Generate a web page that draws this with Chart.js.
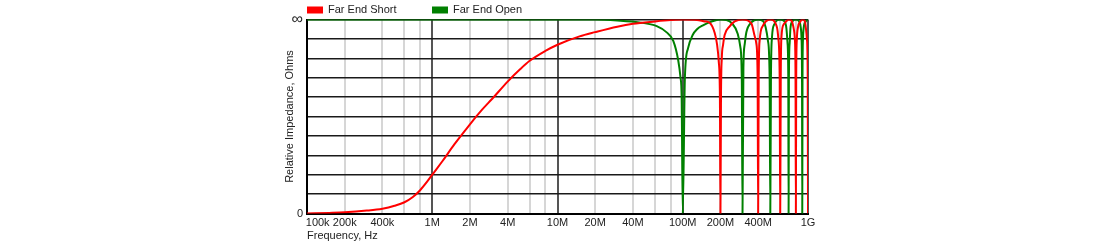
<!DOCTYPE html>
<html><head><meta charset="utf-8">
<script src="https://cdn.jsdelivr.net/npm/chart.js@4.4.1/dist/chart.umd.min.js"></script>
<style>html,body{margin:0;padding:0;background:#fff;}#wrap{width:1110px;height:251px;position:relative;}</style>
</head><body><div id="wrap"><canvas id="c"></canvas></div>
<script>
// Series names
const seriesNames = ['Far End Short', 'Far End Open'];

// Far End Short: frequency (MHz) and relative impedance (fraction of full scale, 1 = ∞)
const shortFreqMHz = [0.1,0.15,0.2,0.3,0.4,0.5,0.6,0.7,0.8,0.9,1,1.2,1.5,2,2.5,3,4,5,6,8,10,15,20,30,40,60,80,100,130,150,164,180,188,194,198,200,202,205,210,216,237,260,300,353,375,387,396,400,404,411,437,460,500,565,580,594,600,606,614,640,680,700,745,765,785,795,800,805,815,832,870,900,945,960,980,995,1000];
const shortZ = [0,0.003,0.006,0.015,0.025,0.04,0.058,0.085,0.12,0.16,0.2,0.268,0.356,0.46,0.535,0.59,0.68,0.742,0.787,0.838,0.87,0.913,0.935,0.963,0.978,0.99,0.997,1,0.998,0.99,0.983,0.93,0.87,0.78,0.6,0,0.6,0.8,0.87,0.92,0.965,0.99,1,0.98,0.915,0.874,0.7,0,0.7,0.89,0.968,0.99,1,0.96,0.9,0.7,0,0.7,0.91,0.975,0.995,1,0.99,0.96,0.9,0.7,0,0.7,0.9,0.96,0.99,1,0.99,0.96,0.9,0.7,0];

// Far End Open
const openFreqMHz = [0.1,1,10,20,30,45,62,74,84,92,96,98,100,104,110,120,130,145,170,200,250,275,288,296,300,305,312,322,353,400,440,459,479,494,500,506,516,538,600,650,672,686,696,700,704,714,724,750,800,850,875,888,896,900,904,912,925,960,1000];
const openZ = [1,1,1,1,0.995,0.985,0.966,0.935,0.89,0.79,0.7,0.6,0,0.7,0.85,0.92,0.95,0.97,0.99,1,0.977,0.925,0.86,0.7,0,0.75,0.87,0.934,0.985,1,0.99,0.96,0.89,0.7,0,0.7,0.91,0.975,1,0.99,0.955,0.88,0.7,0,0.7,0.88,0.955,0.99,1,0.99,0.96,0.9,0.7,0,0.7,0.9,0.96,0.99,1];

// Axis ticks
const xTickValuesMHz = [0.1,0.2,0.4,0.6,0.8,1,2,4,6,8,10,20,40,60,80,100,200,400,600,800,1000];
const xTickLabels = ['100k','200k','400k','','','1M','2M','4M','','','10M','20M','40M','','','100M','200M','400M','','','1G'];
const yTickValues = [0,0.1,0.2,0.3,0.4,0.5,0.6,0.7,0.8,0.9,1];
const yTickLabels = ['0','','','','','','','','','','\u221E'];

const xTitle = 'Frequency, Hz';
const yTitle = 'Relative Impedance, Ohms';

const FONT = '"Liberation Sans", Arial, sans-serif';
const isMajor = v => Math.abs(Math.log10(v) - Math.round(Math.log10(v))) < 1e-6;

const legendPlugin = {
  id: 'customLegend',
  afterDraw(chart) {
    const {ctx, chartArea} = chart;
    ctx.save();
    ctx.font = '11px ' + FONT;
    ctx.textBaseline = 'middle';
    ctx.textAlign = 'left';
    let x = chartArea.left;
    const y = 10;
    chart.data.datasets.forEach(ds => {
      ctx.fillStyle = ds.borderColor;
      ctx.fillRect(x, y - 3.5, 16, 7);
      ctx.fillStyle = '#222';
      ctx.fillText(ds.label, x + 21, y);
      x += 125;
    });
    ctx.restore();
  }
};

new Chart(document.getElementById('c'), {
  type: 'line',
  data: {
    datasets: [
      {label: seriesNames[0], data: shortFreqMHz.map((f, i) => ({x: f, y: shortZ[i]})), borderColor: '#ff0000', backgroundColor: '#ff0000', borderWidth: 2, pointRadius: 0, cubicInterpolationMode: 'monotone', fill: false},
      {label: seriesNames[1], data: openFreqMHz.map((f, i) => ({x: f, y: openZ[i]})), borderColor: '#008000', backgroundColor: '#008000', borderWidth: 2, pointRadius: 0, cubicInterpolationMode: 'monotone', fill: false}
    ]
  },
  options: {
    responsive: true,
    maintainAspectRatio: false,
    animation: false,
    layout: {padding: {left: 283, right: 302, top: 19.5, bottom: 0}},
    plugins: {legend: {display: false}, tooltip: {enabled: false}},
    scales: {
      x: {
        type: 'logarithmic',
        min: 0.1, max: 1000,
        afterBuildTicks: s => { s.ticks = xTickValuesMHz.map(v => ({value: v})); },
        afterFit: s => { s.height = 37.5; },
        ticks: {
          autoSkip: false, maxRotation: 0, minRotation: 0, padding: 3,
          color: '#222', font: {family: FONT, size: 11},
          callback: (v, i) => i === 0 ? '       ' + xTickLabels[i] : xTickLabels[i]
        },
        grid: {
          drawTicks: false,
          color: c => isMajor(c.tick.value) ? '#555555' : '#d6d6d6',
          lineWidth: 2
        },
        border: {display: true, color: '#000', width: 2},
        title: {display: true, text: xTitle, align: 'start', color: '#222', font: {family: FONT, size: 11}, padding: {top: 0, bottom: 8.4}}
      },
      y: {
        type: 'linear',
        min: 0, max: 1,
        afterBuildTicks: s => { s.ticks = yTickValues.map(v => ({value: v})); },
        afterFit: s => { s.width = 24; },
        ticks: {
          autoSkip: false, padding: 4, color: '#222',
          font: c => (c.tick && c.tick.value === 1) ? {family: FONT, size: 16} : {family: FONT, size: 11},
          callback: (v, i) => yTickLabels[i]
        },
        grid: {drawTicks: false, color: '#1a1a1a', lineWidth: 1.5},
        border: {display: true, color: '#000', width: 2},
        title: {display: true, text: yTitle, color: '#222', font: {family: FONT, size: 11}, padding: 0}
      }
    }
  },
  plugins: [legendPlugin]
});
</script></body></html>
